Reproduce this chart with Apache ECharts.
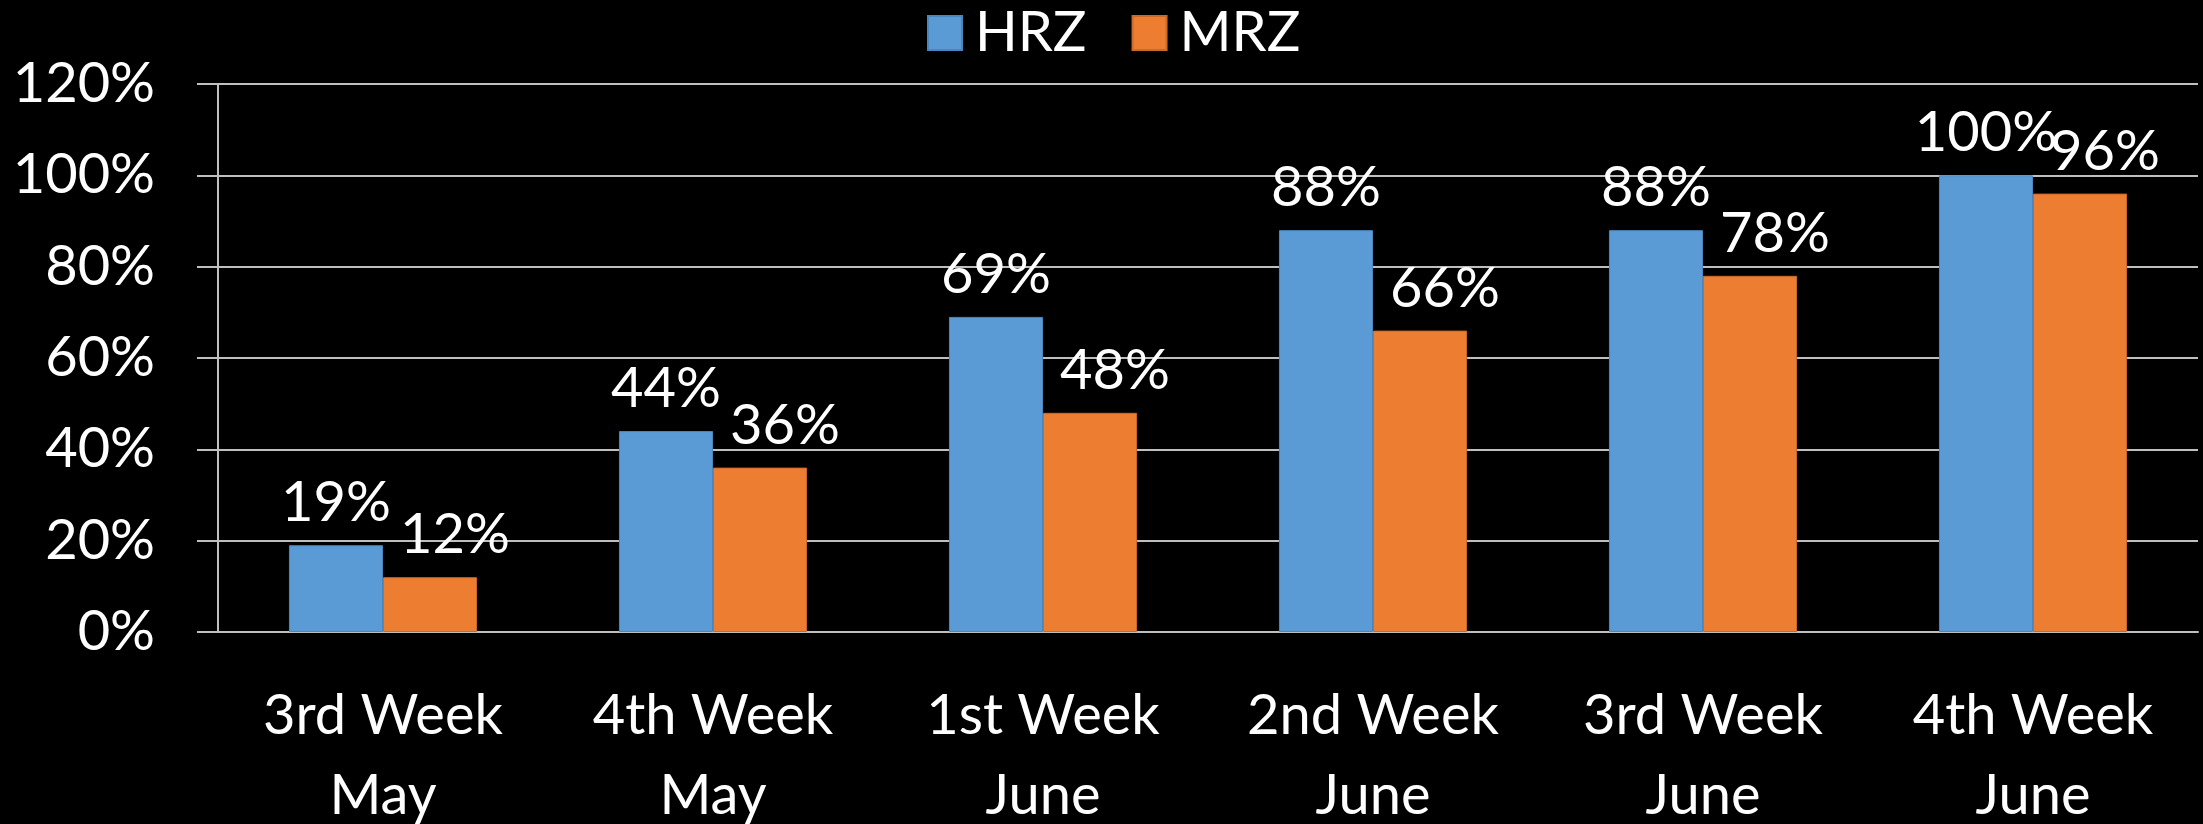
<!DOCTYPE html>
<html>
<head>
<meta charset="utf-8">
<title>HRZ / MRZ</title>
<script src="https://cdn.jsdelivr.net/npm/echarts@6/dist/echarts.min.js"></script>
<style>
  html, body { margin: 0; padding: 0; background: #000; }
  #chart { width: 2203px; height: 824px; }
</style>
</head>
<body>
<div id="chart"></div>
<script>
// 类目（两行）
const weeks = ['3rd Week\nMay', '4th Week\nMay', '1st Week\nJune', '2nd Week\nJune', '3rd Week\nJune', '4th Week\nJune'];
// 系列数据 (%)
const hrzValues = [19, 44, 69, 88, 88, 100];
const mrzValues = [12, 36, 48, 66, 78, 96];
// y轴刻度
const yTicks = [0, 20, 40, 60, 80, 100, 120];

const FONT = 'Lato';
const chart = echarts.init(document.getElementById('chart'));

const labelStyle = {
  show: true,
  position: 'top',
  distance: 14,
  color: '#fff',
  fontFamily: FONT,
  fontSize: 56,
  lineHeight: 56,
  formatter: '{c}%'
};

chart.setOption({
  backgroundColor: '#000',
  animation: false,
  color: ['#5B9BD5', '#ED7D31'],
  legend: {
    data: ['HRZ', 'MRZ'],
    top: 0,
    left: 922,
    icon: 'rect',
    itemWidth: 34,
    itemHeight: 34,
    itemGap: 45,
    textStyle: { color: '#fff', fontFamily: FONT, fontSize: 56, padding: [0, 0, 0, 8] }
  },
  grid: {
    left: 218,
    right: 5,
    top: 84,
    bottom: 192,
    containLabel: false,
    outerBoundsMode: 'none' // 固定绘图区，不随标签收缩
  },
  xAxis: {
    type: 'category',
    data: weeks,
    axisLine: { lineStyle: { color: '#bfbfbf', width: 2 } },
    axisTick: { length: 20, lineStyle: { color: '#bfbfbf', width: 2 } },
    axisLabel: {
      color: '#fff',
      fontFamily: FONT,
      fontSize: 56,
      lineHeight: 80,
      margin: 44
    }
  },
  yAxis: {
    type: 'value',
    min: yTicks[0],
    max: yTicks[yTicks.length - 1],
    interval: 20,
    axisLine: { show: true, lineStyle: { color: '#bfbfbf', width: 2 } },
    axisTick: { show: true, inside: false, length: 21, lineStyle: { color: '#bfbfbf', width: 2 } },
    axisLabel: {
      color: '#fff',
      fontFamily: FONT,
      fontSize: 56,
      margin: 63,
      formatter: '{value}%'
    },
    splitLine: { lineStyle: { color: '#bfbfbf', width: 2 } }
  },
  series: [
    {
      name: 'HRZ',
      type: 'bar',
      data: hrzValues,
      barGap: 0,
      barCategoryGap: '43%',
      itemStyle: { borderColor: '#4a86bd', borderWidth: 1 },
      label: labelStyle
    },
    {
      name: 'MRZ',
      type: 'bar',
      data: mrzValues,
      itemStyle: { borderColor: '#c9692a', borderWidth: 1 },
      label: Object.assign({}, labelStyle, { offset: [25, 0] })
    }
  ]
});
</script>
</body>
</html>
